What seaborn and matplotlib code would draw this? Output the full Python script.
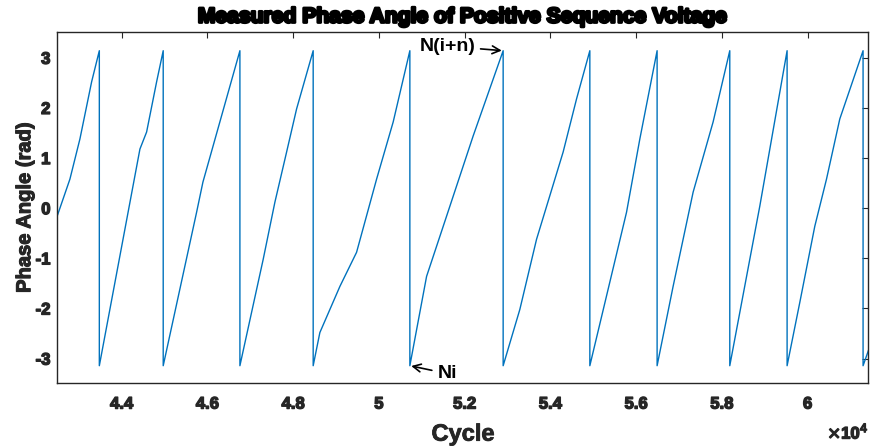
import matplotlib
matplotlib.use("Agg")
import matplotlib.pyplot as plt
import matplotlib.patheffects as pe
import pandas as pd
import seaborn as sns

# Measured positive-sequence phase angle (rad) versus cycle number.
# Each wrap appears as two samples at the same cycle: +pi then -pi.
cycle = [
    42500, 42794, 43027, 43300, 43480,
    43480, 44427, 44583, 44816, 44970,
    44970, 45749, 45896, 46759,
    46759, 47302, 47575, 47848, 48081, 48468,
    48468, 48624, 49091, 49480, 49947, 50334, 50723,
    50723, 51113, 51579, 52199, 52899,
    52899, 53288, 53678, 54298, 54611, 54921,
    54921, 55777, 56087, 56490,
    56490, 56863, 57330, 57796, 58185,
    58185, 58885, 59522,
    59522, 59818, 60168, 60441, 60751, 61294,
    61294, 61451,
]
phase = [
    -0.15, 0.58, 1.38, 2.52, 3.1416,
    -3.1416, 1.18, 1.52, 2.52, 3.1416,
    -3.1416, -0.08, 0.52, 3.1416,
    -3.1416, -1.02, 0.12, 1.12, 1.98, 3.1416,
    -3.1416, -2.48, -1.56, -0.88, 0.58, 1.72, 3.1416,
    -3.1416, -1.36, -0.16, 1.44, 3.1416,
    -3.1416, -2.02, -0.62, 1.12, 2.18, 3.1416,
    -3.1416, -0.08, 1.38, 3.1416,
    -3.1416, -1.56, 0.32, 1.72, 3.1416,
    -3.1416, 0.04, 3.1416,
    -3.1416, -1.88, -0.36, 0.58, 1.78, 3.1416,
    -3.1416, -2.76,
]

x_ticks = [44000, 46000, 48000, 50000, 52000, 54000, 56000, 58000, 60000]
x_tick_labels = ["4.4", "4.6", "4.8", "5", "5.2", "5.4", "5.6", "5.8", "6"]
y_ticks = [-3, -2, -1, 0, 1, 2, 3]
y_tick_labels = ["-3", "-2", "-1", "0", "1", "2", "3"]

# Marked samples: start of window (Ni) and end of window (N(i+n))
ni_point = (50723, -3.1416)
nin_point = (52899, 3.1416)

sns.set_theme(style="white")
plt.rcParams["font.family"] = ["Liberation Sans", "DejaVu Sans"]

line_color = "#0072BD"
text_color = "#262626"
thick = [pe.withStroke(linewidth=1.0, foreground=text_color)]

fig = plt.figure(figsize=(8.71, 4.47), dpi=100)
ax = fig.add_axes([0.0658, 0.1439, 0.9313, 0.784])

df = pd.DataFrame({"Cycle": cycle, "Phase": phase})
sns.lineplot(data=df, x="Cycle", y="Phase", sort=False, estimator=None,
             color=line_color, linewidth=1.0, ax=ax)

ax.set_xlim(42500, 61420)
ax.set_ylim(-3.48, 3.51)

ax.set_xticks(x_ticks)
ax.set_xticklabels(x_tick_labels)
ax.set_yticks(y_ticks)
ax.set_yticklabels(y_tick_labels)

for s in ax.spines.values():
    s.set_visible(True)
    s.set_color("#262626")
    s.set_linewidth(1.0)

ax.tick_params(axis="both", which="major", direction="in", length=4.5,
               width=0.8, color="#262626", top=True, right=True,
               labelsize=12, labelcolor=text_color)
ax.tick_params(axis="x", pad=10)
ax.tick_params(axis="y", pad=5)
for lab in ax.get_xticklabels() + ax.get_yticklabels():
    lab.set_fontweight("bold")
    lab.set_path_effects(thick)

ax.set_xlabel("Cycle", fontsize=17, fontweight="bold", color=text_color,
              labelpad=8, path_effects=[pe.withStroke(linewidth=0.6, foreground=text_color)])
ax.set_ylabel("Phase Angle (rad)", fontsize=14.5, fontweight="bold",
              color=text_color, labelpad=1,
              path_effects=[pe.withStroke(linewidth=0.8, foreground=text_color)])
ax.set_title("Measured Phase Angle of Positive Sequence Voltage",
             fontsize=15.2, fontweight="bold", color="black", pad=7,
             path_effects=[pe.withStroke(linewidth=2.0, foreground="black")])

# Exponent marker for the x axis
fig.text(0.9971, 0.012, r"$\times$10$^{4}$", ha="right", va="bottom",
         fontsize=12, fontweight="bold", color=text_color, path_effects=thick)

ax.annotate("N(i+n)", xy=nin_point, xytext=(50960, 3.23),
            ha="left", va="center", fontsize=14, fontweight="bold", color="black",
            arrowprops=dict(arrowstyle="->", color="black", lw=1.2,
                            shrinkA=1, shrinkB=1))
ax.annotate("Ni", xy=ni_point, xytext=(51376, -3.30),
            ha="left", va="center", fontsize=14, fontweight="bold", color="black",
            arrowprops=dict(arrowstyle="->", color="black", lw=1.2,
                            shrinkA=2, shrinkB=1))

fig.savefig("out.png", dpi=100)
